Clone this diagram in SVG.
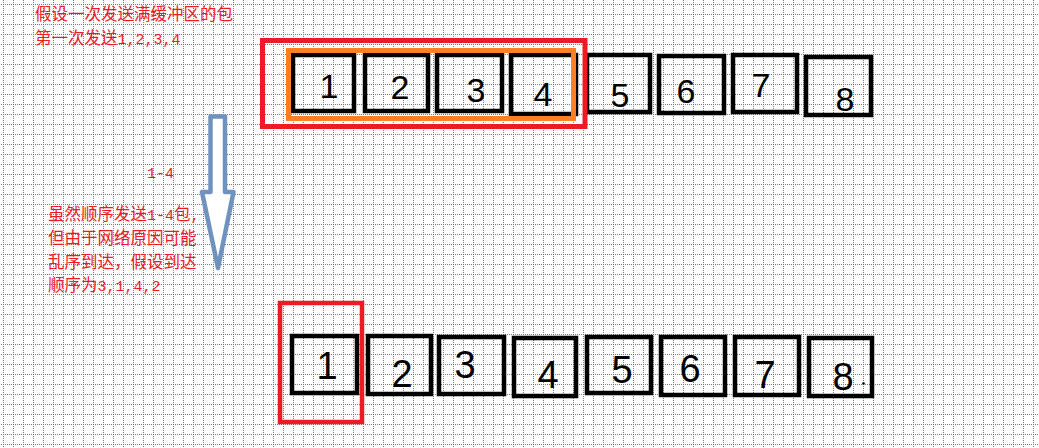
<svg xmlns="http://www.w3.org/2000/svg" width="1039" height="448" viewBox="0 0 1039 448">
<defs>
<pattern id="grid" x="3" y="4" width="10" height="10" patternUnits="userSpaceOnUse">
<path d="M0 0.5H10M0.5 0V10" stroke="#7a7a7a" stroke-width="1" stroke-dasharray="1 1" fill="none" shape-rendering="crispEdges"/>
</pattern>
<style>
.box{fill:none;stroke:#000;stroke-width:4.5}
.dg{font-family:"Liberation Sans",Arial,sans-serif;fill:#000;text-anchor:middle}
.top{font-size:34px}
.bot{font-size:38px}
.lbl{font-family:"Liberation Mono","Noto Sans CJK SC",monospace;font-size:16.5px;fill:#ed1c24}
.lat{font-size:15px}
</style>
</defs>
<rect width="1039" height="448" fill="#fff"/>
<rect width="1039" height="448" fill="url(#grid)"/>

<g id="top-row">
<g id="t1"><rect class="box" x="293" y="55" width="61" height="56"/><text class="dg top" x="329" y="98">1</text></g>
<g id="t2"><rect class="box" x="365" y="55" width="63" height="56"/><text class="dg top" x="400" y="99">2</text></g>
<g id="t3"><rect class="box" x="437" y="55" width="65" height="56"/><text class="dg top" x="476" y="102">3</text></g>
<g id="t4"><rect class="box" x="511" y="55" width="65" height="59"/><text class="dg top" x="543" y="106">4</text></g>
<g id="t5"><rect class="box" x="587" y="55" width="63" height="57"/><text class="dg top" x="620" y="107">5</text></g>
<g id="t6"><rect class="box" x="659" y="56" width="65" height="57"/><text class="dg top" x="686" y="103">6</text></g>
<g id="t7"><rect class="box" x="733" y="55" width="64" height="57"/><text class="dg top" x="761" y="97">7</text></g>
<g id="t8"><rect class="box" x="806" y="57" width="65" height="58"/><text class="dg top" x="845" y="111">8</text></g>
</g>

<g id="send-window">
<rect x="288.5" y="50.5" width="285" height="68" fill="none" stroke="#ff7f27" stroke-width="5"/>
</g>
<g id="buffer">
<rect x="262.5" y="40.5" width="322.5" height="86" fill="none" stroke="#ed1c24" stroke-width="5"/>
</g>

<g id="bottom-row">
<g id="b1"><rect class="box" x="292" y="336" width="65" height="57"/><text class="dg bot" x="327" y="379">1</text></g>
<g id="b2"><rect class="box" x="368" y="336" width="63" height="58"/><text class="dg bot" x="402" y="387">2</text></g>
<g id="b3"><rect class="box" x="439" y="337" width="65" height="57"/><text class="dg bot" x="465" y="378">3</text></g>
<g id="b4"><rect class="box" x="514" y="338" width="62" height="58"/><text class="dg bot" x="548" y="388">4</text></g>
<g id="b5"><rect class="box" x="587" y="337" width="64" height="56"/><text class="dg bot" x="622" y="383">5</text></g>
<g id="b6"><rect class="box" x="661" y="337" width="64" height="58"/><text class="dg bot" x="690" y="382">6</text></g>
<g id="b7"><rect class="box" x="735" y="337" width="64" height="58"/><text class="dg bot" x="765" y="388">7</text></g>
<g id="b8"><rect class="box" x="809" y="338" width="63" height="58"/><text class="dg bot" x="843" y="390">8</text><circle cx="863.5" cy="383.5" r="1.3" fill="#000"/></g>
</g>

<g id="received">
<rect x="280" y="303" width="82" height="119" fill="none" stroke="#ed1c24" stroke-width="4.5"/>
</g>

<g id="connectors">
<polygon points="210.5,116.5 225,116.5 225,192 233.5,192 218,268 202,192 210.5,192" fill="#fff" stroke="#7092be" stroke-width="4.5" stroke-linejoin="round"/>
</g>

<g id="labels">
<text class="lbl" x="35" y="20">假设一次发送满缓冲区的包</text>
<text class="lbl" x="35" y="44">第一次发送<tspan class="lat">1,2,3,4</tspan></text>
<text class="lbl" x="147" y="178"><tspan class="lat">1-4</tspan></text>
<text class="lbl" x="48" y="220">虽然顺序发送<tspan class="lat">1-4</tspan>包<tspan class="lat">,</tspan></text>
<text class="lbl" x="48" y="244">但由于网络原因可能</text>
<text class="lbl" x="48" y="268">乱序到达，假设到达</text>
<text class="lbl" x="48" y="291">顺序为<tspan class="lat">3,1,4,2</tspan></text>
</g>
</svg>
